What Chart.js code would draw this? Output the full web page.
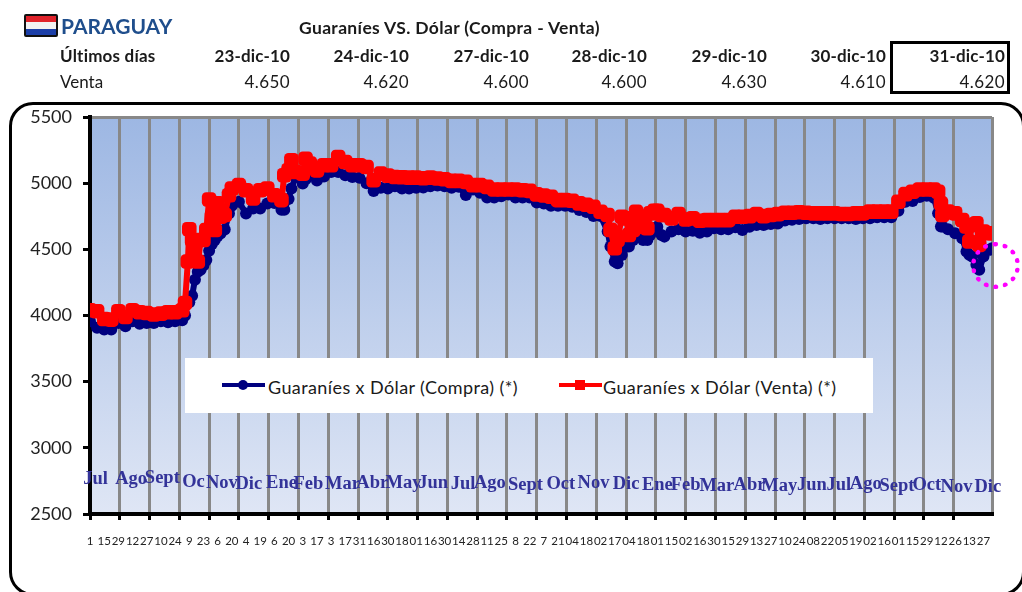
<!DOCTYPE html>
<html lang="es">
<head>
<meta charset="utf-8">
<title>Paraguay</title>
<script src="https://cdn.jsdelivr.net/npm/chart.js@4"></script>
<style>
html,body{margin:0;padding:0;background:#fff;width:1022px;height:592px;overflow:hidden}
body{position:relative;font-family:Lato,"Noto Sans",sans-serif;color:#1a1a1a}
canvas{position:absolute;left:0;top:0}
.t{position:absolute;white-space:nowrap;line-height:20px}
.flag{position:absolute;left:24px;top:14px;width:30px;height:19px;border:2px solid #111;border-radius:2px;background:linear-gradient(#e0232b 0 33%,#f2f2f2 33% 66%,#1c3fa8 66%)}
.frame{position:absolute;left:9px;top:102px;width:1016px;height:494px;border:3px solid #000;border-radius:24px;box-sizing:border-box}
.clip{position:absolute;left:0;top:0;width:1022px;height:592px;overflow:hidden}
.box{position:absolute;left:890px;top:41px;width:120px;height:53px;border:3px solid #000;box-sizing:border-box}
.legend{position:absolute;left:185px;top:358px;width:688px;height:55px;background:#fff}
.swatch{position:absolute;top:27px;width:43px;height:4px;margin-top:-2px}
.swatch i{position:absolute;left:16px;top:-3px;width:10px;height:10px}
.ring{position:absolute;left:971px;top:242px;width:49px;height:47px;border:5px dotted #ff00ff;border-radius:50%;box-sizing:border-box}
</style>
</head>
<body>
<div class="clip"><div class="frame"></div></div>
<canvas id="c" width="1022" height="592"></canvas>
<div class="flag"></div>
<div class="t" style="left:61px;top:16px;font-size:21px;font-weight:700;color:#1f4e8c">PARAGUAY</div>
<div class="t" style="left:299px;top:18px;font-size:17.5px;font-weight:700;letter-spacing:.35px">Guaraníes VS. Dólar (Compra - Venta)</div>
<div class="t" style="left:60px;top:46px;font-size:17px;font-weight:700;letter-spacing:.2px">Últimos días</div>
<div class="t" style="left:60px;top:72px;font-size:17px">Venta</div>
<div id="hdr"></div>
<div class="box"></div>
<div class="legend" id="leg"></div>
<div class="ring"></div>
<script>
const recentDates = ["23-dic-10","24-dic-10","27-dic-10","28-dic-10","29-dic-10","30-dic-10","31-dic-10"];
const recentVenta = ["4.650","4.620","4.600","4.600","4.630","4.610","4.620"];

const sampleDay = [
0,5,10,15,20,25,30,35,40,45,50,55,60,65,67,69,70,72,74,76,78,80,82,84,86,88,90,92,95,98,
100,105,110,115,120,125,130,135,137,140,142,145,150,152,155,160,165,170,175,180,185,190,195,200,205,
210,215,220,225,230,235,240,245,250,255,260,265,270,275,280,285,290,295,300,305,310,315,320,325,330,335,340,
345,350,355,360,365,367,370,372,375,378,380,383,385,388,390,393,395,398,400,403,405,
410,415,420,425,430,435,440,445,450,455,460,465,470,475,480,485,490,495,500,505,510,515,520,525,530,535,540,545,550,555,560,565,570,575,580,585,590,595,
598,600,601,605,610,615,618,620,622,625,627,630,634,636];

const venta = [
4040,4032,3974,3969,4032,3989,4040,4024,4019,4007,4014,4024,4024,4040,4095,4408,4651,4571,4496,4408,4571,4571,4646,4877,4746,4646,4847,4746,4759,4909,
4960,4985,4947,4884,4947,4959,4909,4872,5060,5097,5173,5085,5072,5185,5148,5097,5135,5135,5198,5160,5135,5135,5122,5022,5072,
5057,5047,5045,5042,5042,5037,5042,5035,5030,5017,5017,5010,4985,4985,4972,4952,4952,4952,4952,4947,4942,4915,4907,4897,4872,4872,4867,
4847,4837,4822,4784,4759,4647,4508,4571,4746,4734,4609,4646,4784,4746,4671,4659,4772,4792,4792,4759,4759,
4734,4766,4726,4734,4716,4721,4721,4721,4721,4746,4746,4751,4766,4751,4759,4766,4777,4777,4780,4777,4772,4772,4772,4772,4767,4767,4772,4772,4785,4785,4785,4785,4860,4917,4935,4952,4952,4952,
4935,4847,4760,4785,4772,4722,4672,4559,4684,4697,4534,4634,4622,4622];

const compra = [
3957,3907,3894,3894,3944,3919,3957,3937,3944,3944,3957,3949,3957,3964,4000,4100,4100,4150,4270,4330,4345,4380,4420,4490,4540,4570,4600,4620,4650,4770,
4830,4860,4770,4809,4809,4847,4850,4800,4800,4880,4960,5047,4997,5030,5060,5020,5050,5085,5085,5060,5047,5040,5000,4940,4965,
4960,4977,4960,4960,4965,4967,4977,4982,4977,4965,4972,4910,4952,4927,4892,4892,4902,4915,4892,4892,4892,4854,4847,4829,4829,4829,4822,
4797,4782,4751,4751,4634,4521,4408,4395,4458,4521,4521,4571,4596,4596,4571,4571,4609,4659,4671,4609,4596,
4634,4651,4634,4641,4626,4634,4659,4651,4651,4666,4646,4671,4684,4684,4691,4696,4717,4724,4729,4734,4734,4729,4734,4734,4734,4734,4729,4734,4734,4742,4742,4742,4792,4860,4865,4895,4905,4890,
4772,4672,4672,4652,4622,4584,4484,4459,4446,4383,4346,4446,4496,4509];

const dayTickLabels = ["1","15","29","12","27","10","24","9","23","6","20","4","19","6","20","3","17","3","17","31","16","30","18","01","16","30","14","28","11","25","8","22","7","21","04","18","02","17","04","18","01","15","02","16","30","15","29","13","27","10","24","08","22","05","19","02","16","01","15","29","12","26","13","27"];
const monthNames = ["Jul","Ago","Sept","Oc","Nov","Dic","Ene","Feb","Mar","Abr","May","Jun","Jul","Ago","Sept","Oct","Nov","Dic","Ene","Feb","Mar","Abr","May","Jun","Jul","Ago","Sept","Oct","Nov","Dic"];
const monthDay = [4,29,51,73,93,112,135,154,178,199,221,242,263,282,307,332,355,378,400,420,442,465,486,509,528,547,569,590,611,633];
const monthLevel = [2762,2762,2769,2739,2732,2724,2732,2724,2724,2732,2732,2732,2724,2732,2717,2724,2732,2724,2717,2717,2709,2717,2709,2717,2717,2724,2709,2717,2702,2702];

const seriesNames = ["Guaraníes x Dólar (Compra) (*)","Guaraníes x Dólar (Venta) (*)"];
const yTicks = [2500,3000,3500,4000,4500,5000,5500];
const lastDay = 636, labelStep = 10, gridStep = 21;

/* header */
const hdr = document.getElementById('hdr');
const rightEdges = [290,409,529,647,767,886,1005];
recentDates.forEach((d,i)=>{
  hdr.insertAdjacentHTML('beforeend',
   `<div class="t" style="right:${1022-rightEdges[i]}px;top:46px;font-size:17px;font-weight:700;letter-spacing:.15px">${d}</div>`+
   `<div class="t" style="right:${1022-rightEdges[i]}px;top:72px;font-size:17px;letter-spacing:.4px">${recentVenta[i]}</div>`);
});
/* legend */
const leg = document.getElementById('leg');
[[37,83,'#00007f','50%'],[374,418,'#ff0000','0']].forEach((a,i)=>{
  leg.insertAdjacentHTML('beforeend',
   `<div class="swatch" style="left:${a[0]}px;background:${a[2]}"><i style="background:${a[2]};border-radius:${a[3]}"></i></div>`+
   `<div class="t" style="left:${a[1]}px;top:19px;font-size:18px;letter-spacing:.4px">${seriesNames[i]}</div>`);
});

const toXY = arr => arr.map((v,i)=>({x:sampleDay[i],y:v}));

const plotBackground = {
  id:'plotBackground',
  beforeDraw(chart){
    const {ctx,chartArea:a} = chart;
    const g = ctx.createLinearGradient(0,a.top,0,a.bottom);
    g.addColorStop(0,'#9db7e3');
    g.addColorStop(1,'#dfe6f5');
    ctx.save();ctx.fillStyle=g;ctx.fillRect(a.left,a.top,a.right-a.left,a.bottom-a.top);ctx.restore();
  }
};
const monthText = {
  id:'monthText',
  afterDatasetsDraw(chart){
    const {ctx} = chart;
    const meta = chart.getDatasetMeta(2);
    ctx.save();
    ctx.font='bold 18.5px "Liberation Serif"';
    ctx.fillStyle='#333399';
    ctx.textAlign='center';ctx.textBaseline='middle';
    meta.data.forEach((p,i)=>ctx.fillText(monthNames[i],p.x,p.y));
    ctx.restore();
  }
};

new Chart(document.getElementById('c'),{
  type:'line',
  plugins:[plotBackground,monthText],
  data:{datasets:[
    {label:seriesNames[0],data:toXY(compra),order:2,borderColor:'#00007f',backgroundColor:'#00007f',borderWidth:6,borderJoinStyle:'round',borderCapStyle:'round',pointStyle:'circle',pointRadius:6,pointBorderWidth:0,tension:0,fill:false},
    {label:seriesNames[1],data:toXY(venta),order:1,borderColor:'#ff0000',backgroundColor:'#ff0000',borderWidth:6,borderJoinStyle:'round',borderCapStyle:'round',pointStyle:'rectRounded',pointRadius:8.5,pointBorderWidth:0,tension:0,fill:false},
    {label:'Mes',data:monthDay.map((d,i)=>({x:d,y:monthLevel[i]})),showLine:false,pointRadius:0,order:3}
  ]},
  options:{
    responsive:false,animation:false,
    layout:{padding:{top:117,right:30,left:0,bottom:0}},
    plugins:{legend:{display:false},tooltip:{enabled:false},title:{display:false}},
    scales:{
      xGrid:{
        type:'linear',axis:'x',position:'bottom',weight:0,min:0,max:lastDay,
        afterBuildTicks(s){const t=[];for(let d=0;d<=lastDay-gridStep;d+=gridStep)t.push({value:d});t.push({value:lastDay});s.ticks=t;},
        afterFit(s){s.height=0;},
        ticks:{display:false,autoSkip:false},
        grid:{display:true,color:'#888888',lineWidth:3,tickLength:6,tickWidth:3,
              tickColor:c=>(c.tick&&c.tick.value===lastDay)?'rgba(0,0,0,0)':'#000'},
        border:{display:true,color:'#000',width:4}
      },
      x:{
        type:'linear',position:'bottom',weight:1,min:0,max:lastDay,
        afterBuildTicks(s){s.ticks=dayTickLabels.map((_,i)=>({value:i*labelStep}));},
        afterFit(s){s.height=78;},
        grid:{display:false,drawTicks:false},
        border:{display:false},
        ticks:{autoSkip:false,maxRotation:0,minRotation:0,padding:20,color:'#222',
               font:{family:'Lato',size:11.5},
               callback:(v,i)=>dayTickLabels[i]}
      },
      y:{
        type:'linear',position:'left',min:2500,max:5500,
        afterBuildTicks(s){s.ticks=yTicks.map(v=>({value:v}));},
        afterFit(s){s.width=90;},
        grid:{color:c=>(c.tick&&c.tick.value===5500)?'#888888':'rgba(0,0,0,0)',lineWidth:3,tickLength:7,tickWidth:3,tickColor:'#000'},
        border:{display:true,color:'#000',width:4},
        ticks:{padding:11,color:'#222',font:{family:'Lato',size:18},callback:v=>String(v)}
      }
    }
  }
});
</script>
</body>
</html>
